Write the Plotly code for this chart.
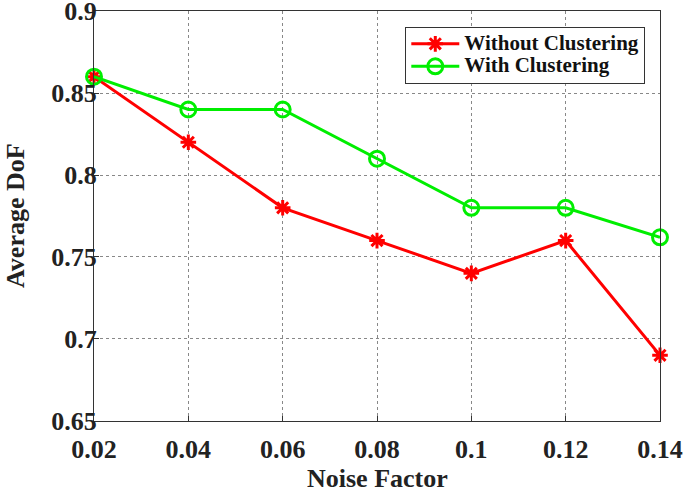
import plotly.graph_objects as go

noise = [0.02, 0.04, 0.06, 0.08, 0.10, 0.12, 0.14]
without_clustering = [0.86, 0.82, 0.78, 0.76, 0.74, 0.76, 0.69]
with_clustering = [0.86, 0.84, 0.84, 0.81, 0.78, 0.78, 0.762]
x_ticks = [0.02, 0.04, 0.06, 0.08, 0.10, 0.12, 0.14]
x_tick_labels = ["0.02", "0.04", "0.06", "0.08", "0.1", "0.12", "0.14"]
y_ticks = [0.65, 0.7, 0.75, 0.8, 0.85, 0.9]
y_tick_labels = ["0.65", "0.7", "0.75", "0.8", "0.85", "0.9"]
series_names = ["Without Clustering", "With Clustering"]

font_family = "Liberation Serif"
text_color = "#222222"


def legend_name(s):
    return f'<span style="font-size:21px"><b>{s}</b></span>'


fig = go.Figure()
fig.add_trace(go.Scatter(
    x=noise, y=without_clustering, mode="lines+markers", name=legend_name(series_names[0]),
    line=dict(color="#ff0000", width=3),
    marker=dict(symbol="asterisk", size=13, color="#ff0000", line=dict(color="#ff0000", width=3)),
    cliponaxis=False,
))
fig.add_trace(go.Scatter(
    x=noise, y=with_clustering, mode="lines+markers", name=legend_name(series_names[1]),
    line=dict(color="#00ee00", width=3),
    marker=dict(symbol="circle-open", size=15, color="#00ee00", line=dict(color="#00ee00", width=3)),
    cliponaxis=False,
))

axis_common = dict(
    showline=True, linecolor="#333333", linewidth=1, mirror=True,
    showgrid=True, gridcolor="#888888", griddash="dot", gridwidth=1,
    ticks="inside", ticklen=5, tickcolor="#333333",
    zeroline=False, automargin=False, ticklabeloverflow="allow",
    tickfont=dict(family=font_family, size=26, color=text_color),
)

fig.update_xaxes(
    range=[0.02, 0.14], tickvals=x_ticks, ticktext=[f"<b>{t}</b>" for t in x_tick_labels],
    ticklabelstandoff=5,
    **axis_common,
)
fig.update_yaxes(
    range=[0.6499, 0.9001], tickvals=y_ticks, ticktext=[f"<b>{t}</b>" for t in y_tick_labels],
    ticklabelstandoff=-9,
    **axis_common,
)

fig.add_annotation(
    text="<b>Noise Factor</b>", xref="paper", yref="paper", x=0.5, y=0,
    xanchor="center", yanchor="middle", yshift=-57, showarrow=False,
    font=dict(family=font_family, size=26, color=text_color),
)
fig.add_annotation(
    text="<b>Average DoF</b>", xref="paper", yref="paper", x=0, y=0.5,
    xanchor="center", yanchor="middle", xshift=-79, textangle=-90, showarrow=False,
    font=dict(family=font_family, size=26, color=text_color),
)

fig.update_layout(
    width=685, height=493,
    margin=dict(l=94, r=25, t=11, b=72),
    plot_bgcolor="white", paper_bgcolor="white",
    legend=dict(
        x=0.55, y=0.962, xanchor="left", yanchor="top",
        bgcolor="white", bordercolor="#333333", borderwidth=1,
        font=dict(family=font_family, size=15, color="#111111"),
        tracegroupgap=0, itemwidth=48,
    ),
    showlegend=True,
)

fig.write_html("out.html", config={"displayModeBar": False})

with open("out.html", "r", encoding="utf-8") as f:
    html = f.read()
html = html.replace("<head>", "<head><style>html,body{margin:0;padding:0;overflow:hidden;}</style>", 1)
with open("out.html", "w", encoding="utf-8") as f:
    f.write(html)
